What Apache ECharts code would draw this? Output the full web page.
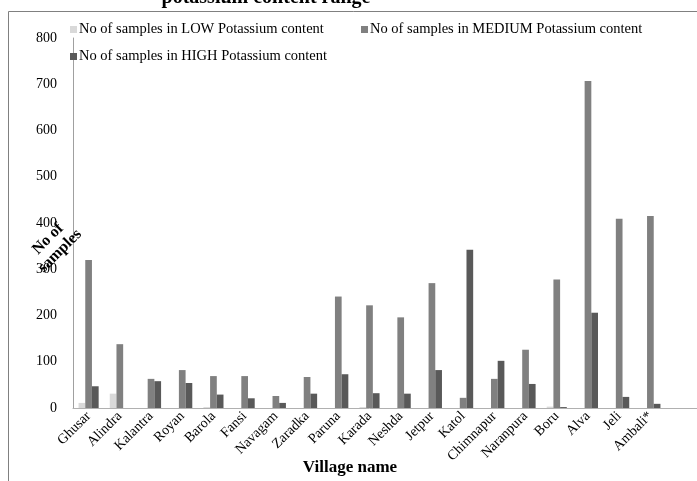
<!DOCTYPE html>
<html>
<head>
<meta charset="utf-8">
<script src="https://cdn.jsdelivr.net/npm/echarts@6/dist/echarts.min.js"></script>
<style>html,body{margin:0;padding:0;background:#fff}#c{width:697px;height:481px}</style>
</head>
<body>
<div id="c"></div>
<script>
const villages = ['Ghusar','Alindra','Kalantra','Royan','Barola','Fansi','Navagam','Zaradka','Paruna','Karada','Neshda','Jetpur','Katol','Chimnapur','Naranpura','Boru','Alva','Jeli','Ambali*'];
const lowK    = [11, 31, 0, 0, 2, 0, 0, 0, 0, 2, 0, 0, 0, 0, 0, 3, 0, 0, 0];
const mediumK = [320, 138, 63, 82, 69, 69, 26, 67, 241, 222, 196, 270, 22, 63, 126, 278, 707, 409, 415];
const highK   = [47, 0, 58, 54, 29, 21, 11, 31, 73, 32, 31, 82, 342, 102, 52, 2, 206, 24, 9];
const seriesNames = ['No of samples in LOW Potassium content','No of samples in MEDIUM Potassium content','No of samples in HIGH Potassium content'];
const yTicks = [0,100,200,300,400,500,600,700,800];

const FONT = '"Liberation Serif", "Times New Roman", serif';
const chart = echarts.init(document.getElementById('c'), null, {renderer:'canvas'});
const legendText = {fontFamily: FONT, fontSize: 14.5, color: '#000', padding: [0,0,0,-3]};
chart.setOption({
  animation: false,
  backgroundColor: '#fff',
  grid: {left: 73, right: 31, top: 38, bottom: 73, containLabel: false},
  legend: [
    {data:[seriesNames[0]], left: 70, top: 22, itemWidth: 7, itemHeight: 7, itemGap: 0, textStyle: legendText, icon: 'rect', padding: 0},
    {data:[seriesNames[1]], left: 361, top: 22, itemWidth: 7, itemHeight: 7, itemGap: 0, textStyle: legendText, icon: 'rect', padding: 0},
    {data:[seriesNames[2]], left: 70, top: 49, itemWidth: 7, itemHeight: 7, itemGap: 0, textStyle: legendText, icon: 'rect', padding: 0}
  ],
  xAxis: {
    type: 'category',
    data: villages,
    axisLine: {lineStyle: {color: '#b0b0b0', width: 1}},
    axisTick: {show: false},
    axisLabel: {rotate: 45, interval: 0, fontFamily: FONT, fontSize: 14, color: '#000', margin: 6}
  },
  yAxis: {
    type: 'value', min: yTicks[0], max: yTicks[yTicks.length-1], interval: 100,
    axisLine: {show: true, lineStyle: {color: '#a0a0a0', width: 1}},
    axisTick: {show: false},
    splitLine: {show: false},
    axisLabel: {fontFamily: FONT, fontSize: 14, color: '#000', margin: 16}
  },
  series: [
    {name: seriesNames[0], type: 'bar', data: lowK, barWidth: 6.7, barGap: '0%', itemStyle: {color: '#d9d9d9'}},
    {name: seriesNames[1], type: 'bar', data: mediumK, barWidth: 6.7, barGap: '0%', itemStyle: {color: '#808080'}},
    {name: seriesNames[2], type: 'bar', data: highK, barWidth: 6.7, barGap: '0%', itemStyle: {color: '#595959'}}
  ],
  graphic: [
    {type: 'rect', shape: {x: 8.5, y: 11.5, width: 700, height: 480}, style: {fill: 'none', stroke: '#808080', lineWidth: 1}, z: 0},
    {type: 'line', shape: {x1: 666, y1: 408.5, x2: 697, y2: 408.5}, style: {stroke: '#b0b0b0', lineWidth: 1}},
    {type: 'text', x: 266, y: -2, style: {text: 'potassium content range', font: 'bold 20px ' + FONT, fill: '#000', textAlign: 'center', textVerticalAlign: 'middle'}},
    {type: 'text', x: 350, y: 468, style: {text: 'Village name', font: 'bold 17px ' + FONT, fill: '#000', textAlign: 'center', textVerticalAlign: 'middle'}},
    {type: 'text', x: 54, y: 245, rotation: Math.PI/4, style: {text: 'No of\nsamples', font: 'bold 16px ' + FONT, fill: '#000', textAlign: 'center', textVerticalAlign: 'middle', lineHeight: 17}, z: 10}
  ]
});
</script>
</body>
</html>
